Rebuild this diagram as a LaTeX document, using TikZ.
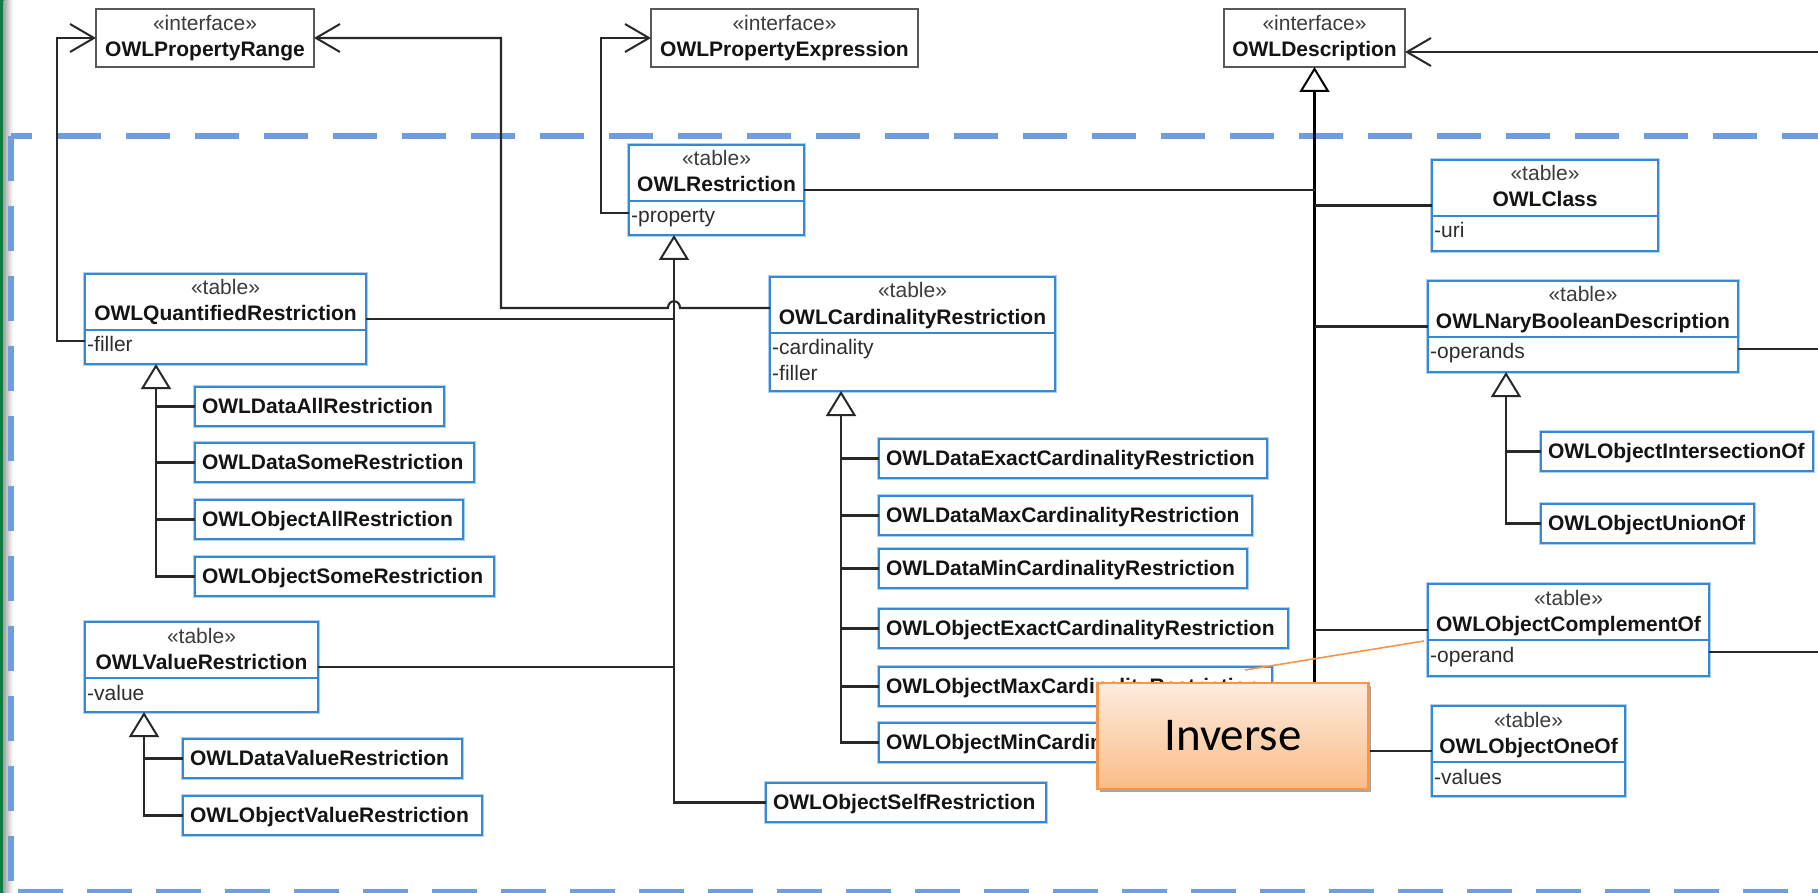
\documentclass[tikz,border=0pt]{standalone}
\usepackage{fontspec}
\setmainfont{Liberation Sans}
\newfontfamily\calloutfont{Carlito}
\usetikzlibrary{arrows.meta,calc,shadows}

\definecolor{tblue}{RGB}{52,136,212}
\definecolor{tglow}{RGB}{175,208,240}
\definecolor{igray}{RGB}{88,88,88}
\definecolor{lnk}{RGB}{40,40,40}
\definecolor{namecol}{RGB}{20,20,20}
\definecolor{stereocol}{RGB}{60,60,60}
\definecolor{attrcol}{RGB}{45,45,45}
\definecolor{frameblue}{RGB}{112,157,222}
\definecolor{calloutedge}{RGB}{247,150,70}
\definecolor{callouttop}{RGB}{253,236,222}
\definecolor{calloutbot}{RGB}{250,188,136}
\definecolor{xlgreen}{RGB}{16,124,65}

\tikzset{
  tblbox/.style={draw=tblue, line width=2pt, fill=white, anchor=north west,
    inner sep=0pt, outer sep=0pt, preaction={draw=tglow, line width=4.5pt}},
  ifbox/.style={draw=igray, line width=2.6pt, fill=white, anchor=north west,
    inner sep=0pt, outer sep=0pt},
  leafbox/.style={tblbox, inner xsep=7pt, inner ysep=0pt, minimum height=39pt,
    text height=17pt, text depth=4pt, align=left,
    font=\bfseries\fontsize{21}{25}\selectfont, text=namecol},
  stereo/.style={anchor=base, inner sep=0pt, font=\fontsize{21}{25}\selectfont, text=stereocol},
  cname/.style={anchor=base, inner sep=0pt, font=\bfseries\fontsize{21}{25}\selectfont, text=namecol},
  attr/.style={anchor=base west, inner sep=0pt, font=\fontsize{21}{25}\selectfont, text=attrcol},
  tbldiv/.style={draw=tblue, line width=2pt},
  link/.style={draw=lnk, line width=2.1pt},
  trunk/.style={draw=black, line width=3.2pt},
  gen/.style={-{Triangle[open, length=25pt, width=30pt, line width=2pt]}},
  assoc/.style={-{Straight Barb[length=24pt, width=28pt, line width=2pt]}},
  frameline/.style={draw=frameblue, line width=6pt},
  callout/.style={draw=calloutedge, line width=2.2pt, top color=callouttop,
    bottom color=calloutbot, minimum width=271pt, minimum height=106pt,
    inner sep=0pt, font=\calloutfont\fontsize{47}{56}\selectfont, text=black,
    drop shadow={shadow xshift=2pt, shadow yshift=-3pt, opacity=0.35, fill=black}},
  calloutline/.style={draw=calloutedge, line width=1.6pt}
}

% interface box: id, x, y, width, name
\newcommand\owliface[5]{%
  \node[ifbox, minimum width=#4pt, minimum height=58pt] (#1) at (#2,#3) {};
  \node[stereo] (#1-st) at ($(#1.north)+(0,22)$) {«interface»};
  \node[cname] (#1-nm) at ($(#1.north)+(0,48)$) {#5};}

% table class: id, x, y, width, height, name, first attribute
\newcommand\owltable[7]{%
  \node[tblbox, minimum width=#4pt, minimum height=#5pt] (#1) at (#2,#3) {};
  \node[stereo] (#1-st) at ($(#1.north)+(0,21)$) {«table»};
  \node[cname] (#1-nm) at ($(#1.north)+(0,47)$) {#6};
  \draw[tbldiv] ($(#1.north west)+(0,56)$) -- ($(#1.north east)+(0,56)$);
  \node[attr] (#1-at) at ($(#1.north west)+(2,78)$) {#7};}

% plain class box: id, x, y, text width, name
\newcommand\owlleaf[5]{\node[leafbox, text width=#4pt] (#1) at (#2,#3) {\mbox{#5}};}

\begin{document}
\begin{tikzpicture}[x=1pt, y=-1pt]
\useasboundingbox (0,0) rectangle (1818,893);

% window edge
\fill[xlgreen] (0,0) rectangle (3.5,893);
\shade[left color=black!35, right color=white] (3.5,0) rectangle (13,893);

% package frame
\draw[frameline, dash pattern=on 45pt off 25pt] (11,136) -- (11,905);
\draw[frameline, dash pattern=on 44pt off 25pt, dash phase=23pt] (11,136) -- (1818,136);
\draw[frameline, dash pattern=on 45pt off 24pt] (18,892) -- (1818,892);

% interfaces
\owliface{pr}{96}{9}{218}{OWLPropertyRange}
\owliface{pe}{651}{9}{267}{OWLPropertyExpression}
\owliface{ds}{1224}{9}{181}{OWLDescription}

% tables
\owltable{rs}{629}{145}{175}{90}{OWLRestriction}{-property}
\owltable{qr}{85}{274}{281}{90}{OWLQuantifiedRestriction}{-filler}
\owltable{cr}{770}{277}{285}{114}{OWLCardinalityRestriction}{-cardinality}
\node[attr] (cr-at2) at ($(cr.north west)+(2,104)$) {-filler};
\owltable{vr}{85}{622}{233}{90}{OWLValueRestriction}{-value}
\owltable{cl}{1432}{160}{226}{91}{OWLClass}{-uri}
\owltable{nb}{1428}{281}{310}{91}{OWLNaryBooleanDescription}{-operands}
\owltable{co}{1428}{584}{281}{92}{OWLObjectComplementOf}{-operand}
\owltable{oo}{1432}{706}{193}{90}{OWLObjectOneOf}{-values}

% concrete classes
\owlleaf{dar}{195}{387}{235}{OWLDataAllRestriction}
\owlleaf{dsr}{195}{443}{265}{OWLDataSomeRestriction}
\owlleaf{oar}{195}{500}{254}{OWLObjectAllRestriction}
\owlleaf{osr}{195}{557}{285}{OWLObjectSomeRestriction}
\owlleaf{dvr}{183}{739}{265}{OWLDataValueRestriction}
\owlleaf{ovr}{183}{796}{285}{OWLObjectValueRestriction}
\owlleaf{dec}{879}{439}{374}{OWLDataExactCardinalityRestriction}
\owlleaf{dmx}{879}{496}{359}{OWLDataMaxCardinalityRestriction}
\owlleaf{dmn}{879}{549}{354}{OWLDataMinCardinalityRestriction}
\owlleaf{oec}{879}{609}{395}{OWLObjectExactCardinalityRestriction}
\owlleaf{omx}{879}{667}{379}{OWLObjectMaxCardinalityRestriction}
\owlleaf{omn}{879}{723}{374}{OWLObjectMinCardinalityRestriction}
\owlleaf{osf}{766}{783}{266}{OWLObjectSelfRestriction}
\owlleaf{oio}{1541}{432}{258}{OWLObjectIntersectionOf}
\owlleaf{ouo}{1541}{504}{199}{OWLObjectUnionOf}

% generalization roots
\coordinate (rsX) at ($(rs.south west)+(45,0)$);
\coordinate (qrX) at ($(qr.south west)+(71,0)$);
\coordinate (crX) at ($(cr.south west)+(71,0)$);
\coordinate (vrX) at ($(vr.south west)+(59,0)$);
\coordinate (nbX) at ($(nb.south west)+(78,0)$);

% OWLRestriction hierarchy
\draw[link, gen] (osf.west) -| (rsX);
\draw[link] (qr.east) -- (qr.east -| rsX);
\draw[link] ($(cr.north west)+(0,57)$) -- ($(cr.north west)+(0,57)$ -| rsX);
\draw[link] (vr.east) -- (vr.east -| rsX);

% OWLQuantifiedRestriction hierarchy
\draw[link, gen] (osr.west) -| (qrX);
\foreach \c in {dar,dsr,oar} \draw[link] (\c.west) -- (\c.west -| qrX);

% OWLCardinalityRestriction hierarchy
\draw[link, gen] (omn.west) -| (crX);
\foreach \c in {dec,dmx,dmn,oec,omx} \draw[link] (\c.west) -- (\c.west -| crX);

% OWLValueRestriction hierarchy
\draw[link, gen] (ovr.west) -| (vrX);
\draw[link] (dvr.west) -- (dvr.west -| vrX);

% OWLNaryBooleanDescription hierarchy
\draw[link, gen] (ouo.west) -| (nbX);
\draw[link] (oio.west) -- (oio.west -| nbX);

% OWLDescription hierarchy
\draw[link] (oo.west) -- (oo.west -| ds.south);
\draw[trunk, gen] (oo.west -| ds.south) -- (ds.south);
\draw[link] (rs.east) -- (rs.east -| ds.south);
\foreach \c in {cl,nb,co} \draw[link] (\c.west) -- (\c.west -| ds.south);

% associations
\coordinate (qrF) at ($(qr.north west)+(0,67)$);
\draw[link, assoc] (qrF) -- ++(-28,0) |- (pr.west);
\coordinate (rsF) at ($(rs.north west)+(0,68)$);
\draw[link, assoc] (rsF) -- ++(-28,0) |- (pe.west);
\coordinate (crA) at ($(cr.north west)+(0,31)$);
\draw[link, assoc] (crA) -- ($(crA -| rsX)+(6,0)$)
  .. controls ($(crA -| rsX)+(6,-9)$) and ($(crA -| rsX)+(-6,-9)$) .. ($(crA -| rsX)+(-6,0)$)
  -- ($(crA -| rsX)+(-173,0)$) |- (pr.east);

\coordinate (rimA) at (1818,52);
\coordinate (rimB) at (1818,349);
\coordinate (rimC) at (1818,652);
\draw[link, assoc] (rimA) -- ($(ds.north east)+(0,43)$);
\draw[link] ($(nb.north east)+(0,68)$) -- (rimB);
\draw[link] ($(co.north east)+(0,68)$) -- (rimC);

% callout
\draw[calloutline] ($(omx.north east)+(-27,3)$) -- ($(co.north west)+(-4,57)$);
\node[callout] (inv) at (1233,736) {Inverse};

\end{tikzpicture}
\end{document}
